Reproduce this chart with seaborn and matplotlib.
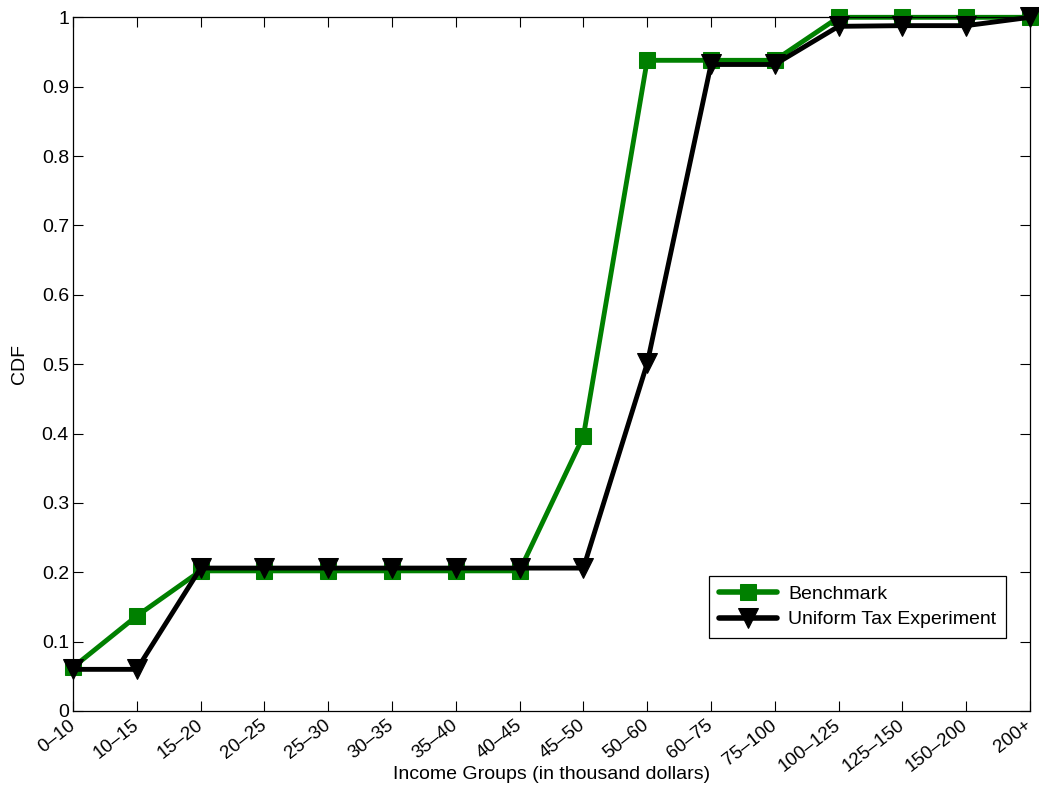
import matplotlib
matplotlib.use("Agg")
import matplotlib.pyplot as plt
import numpy as np
import pandas as pd
import seaborn as sns

# income groups (thousand dollars)
groups = ["0\u201310", "10\u201315", "15\u201320", "20\u201325", "25\u201330", "30\u201335",
          "35\u201340", "40\u201345", "45\u201350", "50\u201360", "60\u201375", "75\u2013100",
          "100\u2013125", "125\u2013150", "150\u2013200", "200+"]

benchmark = [0.063, 0.137, 0.202, 0.202, 0.202, 0.202, 0.202, 0.202,
             0.396, 0.938, 0.938, 0.938, 1.0, 1.0, 1.0, 1.0]
uniform_tax = [0.060, 0.060, 0.206, 0.206, 0.206, 0.206, 0.206, 0.206,
               0.206, 0.501, 0.932, 0.932, 0.987, 0.988, 0.988, 1.0]

series_names = ["Benchmark", "Uniform Tax Experiment"]
colors = {"Benchmark": "#008000", "Uniform Tax Experiment": "black"}

df = pd.DataFrame({
    "pos": list(range(len(groups))) * 2,
    "cdf": benchmark + uniform_tax,
    "series": [series_names[0]] * len(groups) + [series_names[1]] * len(groups),
})

sns.set_style("white", rc={"text.color": "black", "axes.labelcolor": "black"})
plt.rcParams["font.family"] = ["Liberation Sans", "DejaVu Sans"]
fs = 14

fig = plt.figure(figsize=(10.39, 7.87), dpi=100)
ax = fig.add_axes([0.0703, 0.0966, 0.9210, 0.8814])

sns.lineplot(data=df, x="pos", y="cdf", hue="series", style="series",
             palette=colors,
             markers={"Benchmark": "s", "Uniform Tax Experiment": "v"},
             dashes=False, sort=False, linewidth=3.5, markersize=11,
             ax=ax)

# match MATLAB look: solid markers, triangles larger, not clipped
for line, name in zip(ax.lines[:2], series_names):
    line.set_markeredgecolor(colors[name])
    line.set_markerfacecolor(colors[name])
    line.set_clip_on(False)
    if name == series_names[1]:
        line.set_markersize(14)
    line.set_zorder(3 if name == series_names[1] else 2)

ax.set_xlim(0, len(groups) - 1)
ax.set_ylim(0, 1)
ax.set_xticks(range(len(groups)))
ax.set_xticklabels(groups, rotation=38, ha="right", va="center",
                   rotation_mode="anchor", fontsize=13.5)
ax.set_yticks(np.arange(0, 1.01, 0.1))
ax.set_yticklabels(["0", "0.1", "0.2", "0.3", "0.4", "0.5", "0.6", "0.7", "0.8", "0.9", "1"])
ax.tick_params(direction="in", length=7, width=0.8, top=True, right=True,
               bottom=True, left=True, colors="black", pad=3)
ax.tick_params(axis="y", labelsize=fs)
ax.tick_params(axis="x", pad=9)
for sp in ax.spines.values():
    sp.set_visible(True)
    sp.set_color("black")
    sp.set_linewidth(0.9)

ax.set_xlabel("Income Groups (in thousand dollars)", fontsize=fs, color="black")
ax.xaxis.set_label_coords(0.5, -0.08)
ax.set_ylabel("CDF", fontsize=fs, labelpad=10, color="black")

handles, labels = ax.get_legend_handles_labels()
for h, name in zip(handles, labels):
    h.set_markeredgecolor(colors[name])
    h.set_markerfacecolor(colors[name])
    h.set_linewidth(4)
    h.set_markersize(14 if name == series_names[1] else 11)
leg = ax.legend(handles, labels, loc="lower right", bbox_to_anchor=(0.975, 0.105),
                borderaxespad=0, fancybox=False, framealpha=1, edgecolor="black",
                fontsize=fs, handlelength=3.0, handletextpad=0.55,
                borderpad=0.5, labelspacing=0.4, labelcolor="black")
leg.get_frame().set_linewidth(0.9)

fig.savefig("out.png", dpi=100)
